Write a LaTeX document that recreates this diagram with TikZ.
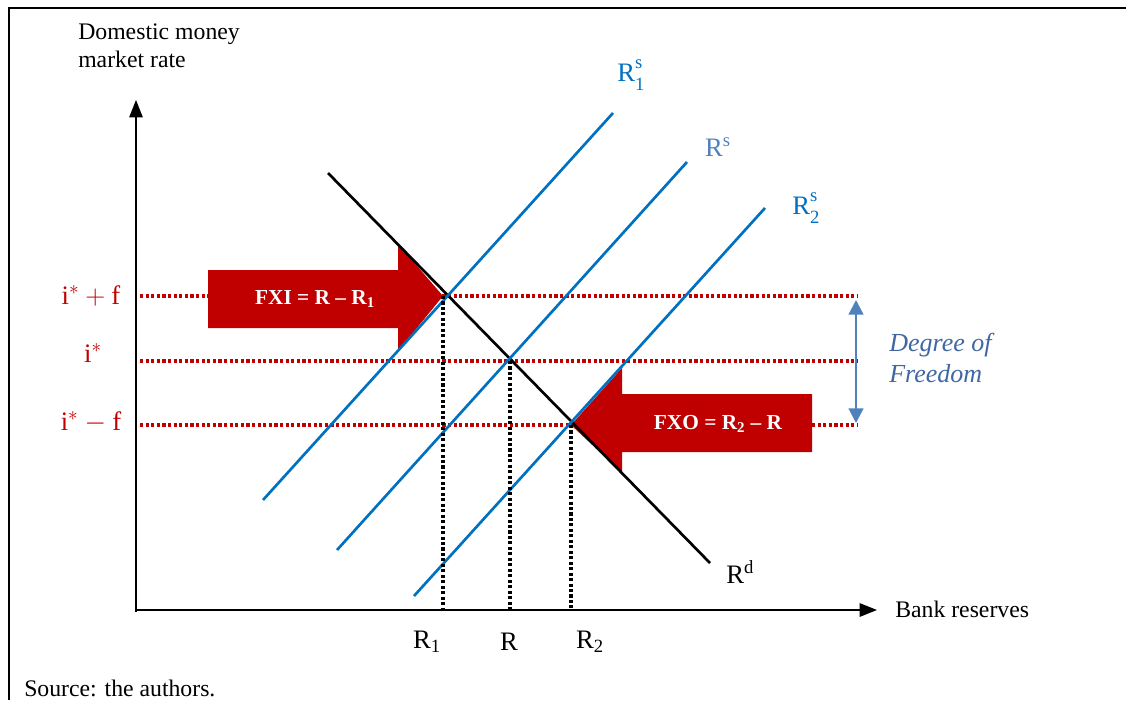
\documentclass[tikz,border=0pt]{standalone}
\usepackage{fontspec}
\setmainfont{Liberation Serif}
\usetikzlibrary{arrows.meta}
\definecolor{dred}{HTML}{C00000}
\definecolor{sblue}{HTML}{0070C0}
\definecolor{lblue}{HTML}{4F81BD}
\definecolor{dfblue}{HTML}{3F67A0}
\begin{document}
\begin{tikzpicture}[x=0.75pt,y=-0.75pt,
  txt/.style={inner sep=0pt,font=\fontsize{17.8}{21}\selectfont},
  big/.style={inner sep=0pt,font=\fontsize{20}{24}\selectfont},
  rlab/.style={inner sep=0pt,text=dred,font=\fontsize{20}{24}\selectfont},
  axis/.style={line width=1.4pt,-{Triangle[length=13pt,width=10pt]}},
  reddot/.style={dred,line width=2.4pt,dash pattern=on 2.4pt off 1.8pt},
  blackdot/.style={black,line width=2.3pt,dash pattern=on 2.3pt off 1.8pt},
  supply/.style={sblue,line width=2pt},
  demand/.style={black,line width=2pt},
  bigarrow/.style={fill=dred,draw=none},
  arrtext/.style={inner sep=0pt,text=white,font=\fontsize{16}{18}\selectfont\bfseries},
  dof/.style={lblue,line width=1.7pt,{Triangle[length=11pt,width=11pt]}-{Triangle[length=11pt,width=11pt]}}]
\useasboundingbox (0,0) rectangle (1126,700);
% frame
\draw[line width=2.2pt] (9,700) -- (9,8) -- (1126,8);
% coordinates
\coordinate (O) at (136,612);
\coordinate (Ox) at (136,610);
\coordinate (ytip) at (136,100);
\coordinate (xtip) at (877,610);
\coordinate (A) at (443,296);
\coordinate (B) at (510,361);
\coordinate (C) at (571,425);
\coordinate (A0) at (443,610);
\coordinate (B0) at (510,610);
\coordinate (C0) at (571,610);
\coordinate (h1a) at (140,296); \coordinate (h1b) at (858,296);
\coordinate (h2a) at (140,361); \coordinate (h2b) at (858,361);
\coordinate (h3a) at (140,425); \coordinate (h3b) at (858,425);
\coordinate (d1) at (328,173); \coordinate (d2) at (710,563);
\coordinate (s1a) at (263,500); \coordinate (s1b) at (613,113);
\coordinate (sa) at (337,550); \coordinate (sb) at (687,162);
\coordinate (s2a) at (414,596); \coordinate (s2b) at (765,208);
\coordinate (dfa) at (856,300); \coordinate (dfb) at (856,423);
% red dotted levels
\draw[reddot] (h1a) -- (h1b);
\draw[reddot] (h2a) -- (h2b);
\draw[reddot] (h3a) -- (h3b);
% big arrows
\fill[bigarrow] (208,270) -- (398,270) -- (398,244) -- (A) -- (398,351) -- (398,328) -- (208,328) -- cycle;
\fill[bigarrow] (812,394) -- (622,394) -- (622,368) -- (C) -- (622,473) -- (622,452) -- (812,452) -- cycle;
\node[arrtext] (fxi) at (315,299) {FXI = R -- R\textsubscript{1}};
\node[arrtext] (fxo) at (718,424) {FXO = R\textsubscript{2} -- R};
% axes
\draw[axis] (O) -- (ytip);
\draw[axis] (Ox) -- (xtip);
% curves
\draw[demand] (d1) -- (d2);
\draw[supply] (s1a) -- (s1b);
\draw[supply] (sa) -- (sb);
\draw[supply] (s2a) -- (s2b);
% vertical dotted
\draw[blackdot] (A) -- (A0);
\draw[blackdot] (B) -- (B0);
\draw[blackdot] (C) -- (C0);
% degree of freedom
\draw[dof] (dfa) -- (dfb);
\node[inner sep=0pt,anchor=west,align=left,text=dfblue,font=\fontsize{19.5}{23}\selectfont\itshape] (dftxt) at (889,358) {Degree of\\Freedom};
% labels
\node[txt,anchor=north west,align=left] (ylab) at (78,24) {Domestic money\\market rate};
\node[txt,anchor=west] (xlab) at (895,609) {Bank reserves};
\node[txt,anchor=west] (src) at (24,688) {Source: the authors.};
\node[rlab] (l1) at (91,296) {$\mathrm{i}^{*}+\mathrm{f}$};
\node[rlab] (l2) at (93,353) {$\mathrm{i}^{*}$};
\node[rlab] (l3) at (91,422) {$\mathrm{i}^{*}-\mathrm{f}$};
\node[big] (t1) at (427,642) {R\textsubscript{1}};
\node[big] (t2) at (509,642) {R};
\node[big] (t3) at (590,642) {R\textsubscript{2}};
\node[big,anchor=west] (rd) at (726,572) {R\textsuperscript{d}};
\node[big,text=sblue] (rs1) at (631,75) {R\rlap{\raisebox{1.05ex}{\fontsize{14}{14}\selectfont s}}\raisebox{-0.75ex}{\fontsize{14}{14}\selectfont 1}};
\node[big,text=lblue] (rs) at (718,147) {R\textsuperscript{s}};
\node[big,text=sblue] (rs2) at (806,208) {R\rlap{\raisebox{1.05ex}{\fontsize{14}{14}\selectfont s}}\raisebox{-0.75ex}{\fontsize{14}{14}\selectfont 2}};
\end{tikzpicture}
\end{document}
